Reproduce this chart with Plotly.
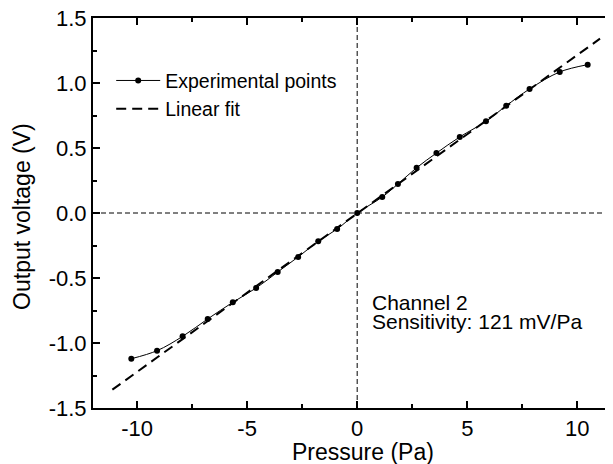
import plotly.graph_objects as go

# Experimental points
pressure = [-10.26, -9.09, -7.93, -6.79, -5.65, -4.59, -3.61, -2.68, -1.77, -0.91,
            0.0, 1.14, 1.85, 2.70, 3.60, 4.66, 5.85, 6.77, 7.83, 9.20, 10.47]
voltage = [-1.121, -1.059, -0.949, -0.815, -0.687, -0.577, -0.454, -0.338, -0.218, -0.123,
           0.0, 0.123, 0.223, 0.348, 0.461, 0.585, 0.705, 0.825, 0.954, 1.085, 1.141]

# Linear fit end points
fit_x = [-11.12, 11.03]
fit_y = [-1.359, 1.341]

x_tickvals = [-10, -5, 0, 5, 10]
x_ticktext = ["-10", "-5", "0", "5", "10"]
y_tickvals = [-1.5, -1.0, -0.5, 0.0, 0.5, 1.0, 1.5]
y_ticktext = ["-1.5", "-1.0", "-0.5", "0.0", "0.5", "1.0", "1.5"]

FONT = "Liberation Sans, Arial, sans-serif"

fig = go.Figure()
fig.add_trace(go.Scatter(
    x=pressure, y=voltage, mode="lines+markers", name="Experimental points",
    line=dict(color="black", width=1, shape="spline", smoothing=1),
    marker=dict(color="black", size=6, symbol="circle"),
))
fig.add_trace(go.Scatter(
    x=fit_x, y=fit_y, mode="lines", name="Linear fit",
    line=dict(color="black", width=2, dash="10px,6px"),
))

# dashed zero lines
fig.add_shape(type="line", xref="paper", yref="y", x0=0, x1=1, y0=0, y1=0,
              line=dict(color="black", width=1, dash="5px,3px"), layer="below")
fig.add_shape(type="line", xref="x", yref="paper", x0=0, x1=0, y0=0, y1=1,
              line=dict(color="black", width=1, dash="5px,3px"), layer="below")

fig.add_annotation(text="Channel 2", xref="paper", yref="paper", x=0.533, y=0.271,
                   xanchor="left", yanchor="middle", showarrow=False,
                   font=dict(family=FONT, size=21, color="black"))
fig.add_annotation(text="Sensitivity: 121 mV/Pa", xref="paper", yref="paper", x=0.533, y=0.222,
                   xanchor="left", yanchor="middle", showarrow=False,
                   font=dict(family=FONT, size=21, color="black"))

# axis titles
fig.add_annotation(text="Pressure (Pa)", xref="paper", yref="paper", x=0.52, y=-0.112,
                   xanchor="center", yanchor="middle", showarrow=False,
                   font=dict(family=FONT, size=23, color="black"))
fig.add_annotation(text="Output voltage (V)", xref="paper", yref="paper", x=-0.1365, y=0.49,
                   xanchor="center", yanchor="middle", showarrow=False, textangle=-90,
                   font=dict(family=FONT, size=23, color="black"))

axis_common = dict(
    showgrid=False, zeroline=False, showline=True, linecolor="black", linewidth=2,
    ticks="inside", ticklen=7, tickwidth=1.5, tickcolor="black", automargin=False,
    ticklabeloverflow="allow",
    tickfont=dict(family=FONT, size=22, color="black"),
)

# the page body adds an 8px offset, so the figure is sized 8px smaller
fig.update_layout(
    width=605, height=456,
    margin=dict(l=85, r=0, t=10, b=56),
    paper_bgcolor="white", plot_bgcolor="white",
    font=dict(family=FONT, color="black"),
    showlegend=True,
    legend=dict(x=0.035, y=0.889, xanchor="left", yanchor="top",
                bgcolor="rgba(0,0,0,0)", borderwidth=0,
                font=dict(family=FONT, size=19.5, color="black"),
                itemwidth=44, tracegroupgap=0),
    xaxis=dict(axis_common, range=[-12, 11.62], mirror="ticks",
               tickmode="array", tickvals=x_tickvals, ticktext=x_ticktext,
               minor=dict(tickmode="linear", tick0=0, dtick=2.5, ticks="inside",
                          ticklen=4, tickwidth=1.5, tickcolor="black")),
    yaxis=dict(axis_common, range=[-1.5, 1.5],
               tickmode="array", tickvals=y_tickvals, ticktext=y_ticktext,
               minor=dict(tickmode="linear", tick0=0, dtick=0.25, ticks="inside",
                          ticklen=4, tickwidth=1.5, tickcolor="black")),
)

fig.write_html("out.html")
